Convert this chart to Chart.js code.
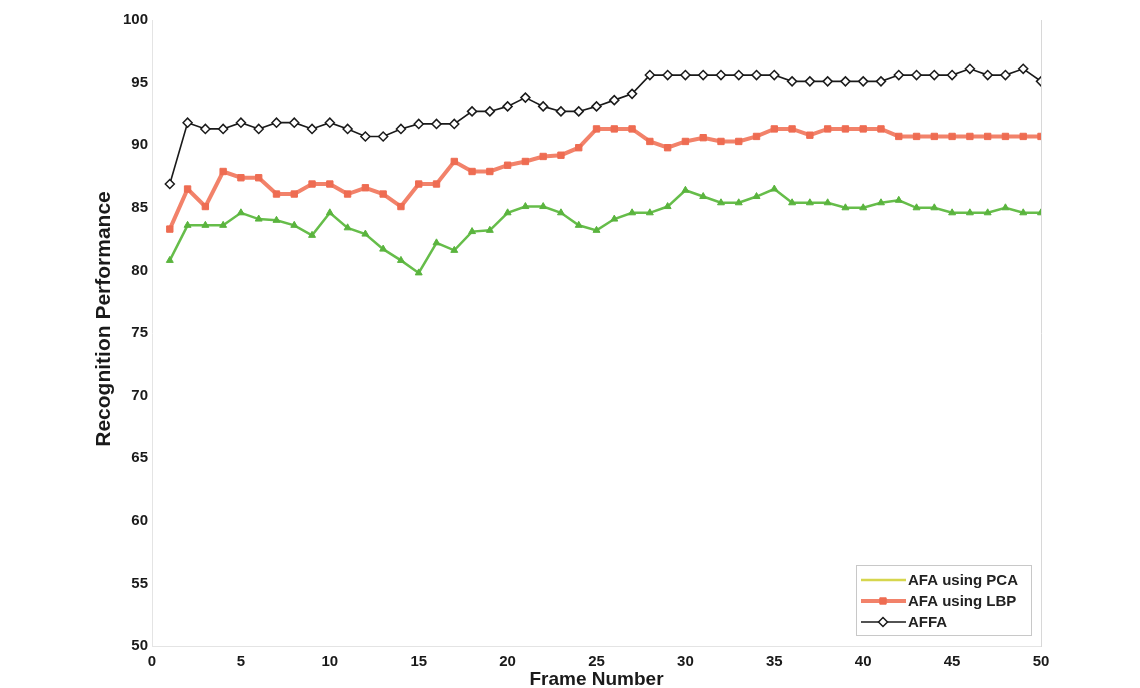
<!DOCTYPE html>
<html>
<head>
<meta charset="utf-8">
<script src="https://cdn.jsdelivr.net/npm/chart.js@4.4.1/dist/chart.umd.min.js"></script>
<style>
  html, body { margin: 0; padding: 0; background: #fff; }
  #wrap { width: 1140px; height: 688px; }
</style>
</head>
<body>
<div id="wrap"><canvas id="grafico" width="1140" height="688"></canvas></div>
<script>
// frame numbers on the x axis
const frames = [];
for (let i = 1; i <= 50; i++) frames.push(i);

const afaPca = [
  80.8, 83.6, 83.6, 83.6, 84.6, 84.1, 84.0, 83.6, 82.8, 84.6,
  83.4, 82.9, 81.7, 80.8, 79.8, 82.2, 81.6, 83.1, 83.2, 84.6,
  85.1, 85.1, 84.6, 83.6, 83.2, 84.1, 84.6, 84.6, 85.1, 86.4,
  85.9, 85.4, 85.4, 85.9, 86.5, 85.4, 85.4, 85.4, 85.0, 85.0,
  85.4, 85.6, 85.0, 85.0, 84.6, 84.6, 84.6, 85.0, 84.6, 84.6
];
const afaLbp = [
  83.3, 86.5, 85.1, 87.9, 87.4, 87.4, 86.1, 86.1, 86.9, 86.9,
  86.1, 86.6, 86.1, 85.1, 86.9, 86.9, 88.7, 87.9, 87.9, 88.4,
  88.7, 89.1, 89.2, 89.8, 91.3, 91.3, 91.3, 90.3, 89.8, 90.3,
  90.6, 90.3, 90.3, 90.7, 91.3, 91.3, 90.8, 91.3, 91.3, 91.3,
  91.3, 90.7, 90.7, 90.7, 90.7, 90.7, 90.7, 90.7, 90.7, 90.7
];
const affa = [
  86.9, 91.8, 91.3, 91.3, 91.8, 91.3, 91.8, 91.8, 91.3, 91.8,
  91.3, 90.7, 90.7, 91.3, 91.7, 91.7, 91.7, 92.7, 92.7, 93.1,
  93.8, 93.1, 92.7, 92.7, 93.1, 93.6, 94.1, 95.6, 95.6, 95.6,
  95.6, 95.6, 95.6, 95.6, 95.6, 95.1, 95.1, 95.1, 95.1, 95.1,
  95.1, 95.6, 95.6, 95.6, 95.6, 96.1, 95.6, 95.6, 96.1, 95.1
];
const seriesNames = ['AFA using PCA', 'AFA using LBP', 'AFFA'];

function pontos(vals) {
  return vals.map((v, i) => ({ x: frames[i], y: v }));
}

const fonte = '"Liberation Sans", Arial, sans-serif';

// legend box drawn inside the plot, bottom right (like matlab)
const legendaBox = {
  id: 'legendaBox',
  afterDatasetsDraw(chart) {
    const c = chart.ctx;
    const area = chart.chartArea;
    const w = 175, h = 70;
    const x0 = area.right - 10 - w;
    const y0 = area.bottom - 11 - h;
    c.save();
    c.fillStyle = '#fff';
    c.fillRect(x0, y0, w, h);
    c.strokeStyle = '#c8c8c8';
    c.lineWidth = 1;
    c.strokeRect(x0 + 0.5, y0 + 0.5, w, h);
    c.font = 'bold 15px ' + fonte;
    c.textBaseline = 'middle';
    chart.data.datasets.forEach((ds, i) => {
      const y = y0 + 15 + i * 21;
      c.strokeStyle = i === 0 ? '#d6d64e' : ds.borderColor;
      c.lineWidth = ds.borderWidth;
      c.beginPath();
      c.moveTo(x0 + 5, y);
      c.lineTo(x0 + 50, y);
      c.stroke();
      if (i > 0) {
        c.fillStyle = ds.pointBackgroundColor;
        c.strokeStyle = ds.pointBorderColor;
        c.lineWidth = ds.pointBorderWidth;
        Chart.helpers.drawPoint(c, {
          pointStyle: ds.pointStyle, radius: ds.pointRadius, rotation: 0, borderWidth: ds.pointBorderWidth
        }, x0 + 27, y);
      }
      c.fillStyle = '#222';
      c.fillText(ds.label, x0 + 52, y + 1);
    });
    c.restore();
  }
};

// y title drawn by hand, it sits a bit above the middle in the original
const tituloY = {
  id: 'tituloY',
  afterDraw(chart) {
    const c = chart.ctx;
    c.save();
    c.translate(104, 319);
    c.rotate(-Math.PI / 2);
    c.font = 'bold 21px ' + fonte;
    c.fillStyle = '#1a1a1a';
    c.textAlign = 'center';
    c.textBaseline = 'middle';
    c.fillText('Recognition Performance', 0, 0);
    c.restore();
  }
};

const data = {
  datasets: [
    {
      label: seriesNames[0],
      data: pontos(afaPca),
      borderColor: '#66bd4a',
      backgroundColor: '#66bd4a',
      borderWidth: 2.5,
      pointStyle: 'triangle',
      pointRadius: 4,
      pointBackgroundColor: '#5ab43e',
      pointBorderColor: '#5ab43e',
      pointBorderWidth: 1,
      tension: 0
    },
    {
      label: seriesNames[1],
      data: pontos(afaLbp),
      borderColor: '#f2826a',
      backgroundColor: '#f2826a',
      borderWidth: 4,
      pointStyle: 'rect',
      pointRadius: 4.5,
      pointBackgroundColor: '#ee6c52',
      pointBorderColor: '#ee6c52',
      pointBorderWidth: 1,
      tension: 0
    },
    {
      label: seriesNames[2],
      data: pontos(affa),
      borderColor: '#1a1a1a',
      backgroundColor: '#ffffff',
      borderWidth: 1.6,
      pointStyle: 'rectRot',
      pointRadius: 4.5,
      pointBackgroundColor: '#ffffff',
      pointBorderColor: '#1a1a1a',
      pointBorderWidth: 1.5,
      tension: 0
    }
  ]
};

const config = {
  type: 'line',
  data: data,
  options: {
    responsive: false,
    animation: false,
    layout: { padding: { left: 119, right: 99, top: 20, bottom: -1 } },
    plugins: {
      legend: { display: false },
      tooltip: { enabled: false }
    },
    scales: {
      x: {
        type: 'linear',
        min: 0, max: 50,
        grid: { display: false, drawTicks: false },
        border: { display: true, color: '#e4e4e4' },
        ticks: {
          stepSize: 5,
          padding: 8,
          color: '#1a1a1a',
          font: { family: fonte, size: 15, weight: 'bold', lineHeight: 1 }
        },
        title: {
          display: true,
          text: 'Frame Number',
          color: '#1a1a1a',
          padding: { top: -7, bottom: 0 },
          font: { family: fonte, size: 19, weight: 'bold', lineHeight: 1 }
        }
      },
      y: {
        min: 50, max: 100,
        grid: { display: false, drawTicks: false },
        border: { display: true, color: '#e4e4e4' },
        ticks: {
          stepSize: 5,
          padding: 4,
          color: '#1a1a1a',
          font: { family: fonte, size: 15, weight: 'bold', lineHeight: 1 }
        }
      },
      yRight: {
        position: 'right',
        min: 50, max: 100,
        grid: { display: false, drawTicks: false },
        border: { display: true, color: '#d8d8d8' },
        ticks: { display: false }
      }
    }
  },
  plugins: [legendaBox, tituloY]
};

const myChart = new Chart(document.getElementById('grafico').getContext('2d'), config);
</script>
</body>
</html>
